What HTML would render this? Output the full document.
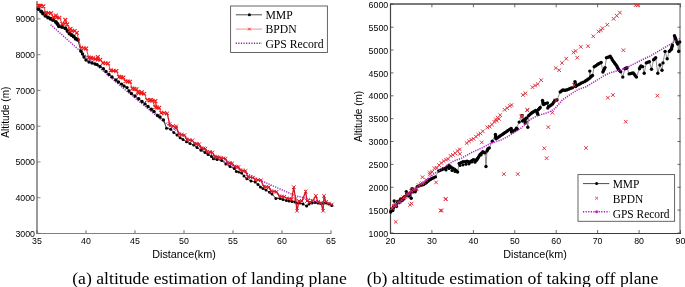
<!DOCTYPE html>
<html><head><meta charset="utf-8"><style>
html,body{margin:0;padding:0;background:#fff;}
body{width:685px;height:287px;overflow:hidden;}
svg{display:block;will-change:transform;filter:blur(0.3px);}
.tk{font-family:"Liberation Sans",sans-serif;font-size:8.8px;fill:#000;}
.lab{font-family:"Liberation Sans",sans-serif;font-size:10.8px;fill:#000;}
.lg{font-family:"Liberation Serif",serif;font-size:11.7px;fill:#000;}
.laby{font-family:"Liberation Sans",sans-serif;font-size:10px;fill:#000;}
.lg2{font-family:"Liberation Serif",serif;font-size:11.45px;fill:#000;}
.cap{font-family:"Liberation Serif",serif;font-size:17.7px;fill:#000;}
</style></head><body>
<svg width="685" height="287" viewBox="0 0 685 287">
<line x1="37" y1="1" x2="37" y2="233.5" stroke="#9a9a9a" stroke-width="2"/>
<line x1="36" y1="233.5" x2="331.5" y2="233.5" stroke="#808080" stroke-width="1.2"/>
<line x1="37" y1="233.4" x2="40.5" y2="233.4" stroke="#666" stroke-width="0.8"/>
<text x="35" y="236.8" class="tk" text-anchor="end">3000</text>
<line x1="37" y1="197.7" x2="40.5" y2="197.7" stroke="#666" stroke-width="0.8"/>
<text x="35" y="201.1" class="tk" text-anchor="end">4000</text>
<line x1="37" y1="161.9" x2="40.5" y2="161.9" stroke="#666" stroke-width="0.8"/>
<text x="35" y="165.3" class="tk" text-anchor="end">5000</text>
<line x1="37" y1="126.2" x2="40.5" y2="126.2" stroke="#666" stroke-width="0.8"/>
<text x="35" y="129.6" class="tk" text-anchor="end">6000</text>
<line x1="37" y1="90.4" x2="40.5" y2="90.4" stroke="#666" stroke-width="0.8"/>
<text x="35" y="93.8" class="tk" text-anchor="end">7000</text>
<line x1="37" y1="54.7" x2="40.5" y2="54.7" stroke="#666" stroke-width="0.8"/>
<text x="35" y="58.1" class="tk" text-anchor="end">8000</text>
<line x1="37" y1="18.9" x2="40.5" y2="18.9" stroke="#666" stroke-width="0.8"/>
<text x="35" y="22.3" class="tk" text-anchor="end">9000</text>
<line x1="37" y1="233" x2="37" y2="230.3" stroke="#555" stroke-width="0.9"/>
<text x="37" y="243.6" class="tk" text-anchor="middle">35</text>
<line x1="86" y1="233" x2="86" y2="230.3" stroke="#555" stroke-width="0.9"/>
<text x="86" y="243.6" class="tk" text-anchor="middle">40</text>
<line x1="135" y1="233" x2="135" y2="230.3" stroke="#555" stroke-width="0.9"/>
<text x="135" y="243.6" class="tk" text-anchor="middle">45</text>
<line x1="184" y1="233" x2="184" y2="230.3" stroke="#555" stroke-width="0.9"/>
<text x="184" y="243.6" class="tk" text-anchor="middle">50</text>
<line x1="233" y1="233" x2="233" y2="230.3" stroke="#555" stroke-width="0.9"/>
<text x="233" y="243.6" class="tk" text-anchor="middle">55</text>
<line x1="282" y1="233" x2="282" y2="230.3" stroke="#555" stroke-width="0.9"/>
<text x="282" y="243.6" class="tk" text-anchor="middle">60</text>
<line x1="331" y1="233" x2="331" y2="230.3" stroke="#555" stroke-width="0.9"/>
<text x="331" y="243.6" class="tk" text-anchor="middle">65</text>
<text x="184" y="257.6" class="lab" text-anchor="middle">Distance(km)</text>
<text transform="translate(9.1,112.2) rotate(-90)" class="laby" text-anchor="middle">Altitude (m)</text>
<polyline points="50.6,24.7 81,51.8 120,85.5 161.5,120 210,154 235,167 258,179.3 294.7,195.5 331,204.5" fill="none" stroke="#a020c0" stroke-width="1.4" stroke-dasharray="1.2 1.2"/>
<polyline points="38.5,9 41.2,11.5 43,13.5 45.4,15.7 48,17.5 50.6,18.8 53,20 55.9,22 57.5,24 59,26.2 62,27 65.3,28.2 67.5,31 69.5,33.5 71.5,35 73.7,36.6 75.7,38.7 77.8,39.7 81,51.3 82.5,54 84,57 86,60 89,62 92,63 95,64 97.1,64.6 100,66.5 103.4,68.8 106,71.5 108.9,74.4 112,77 115.9,80 118.5,82 121.5,84.1 124,86 127,87.6 129,91 131.4,93.5 135,96 138.7,98.7 142,101.5 145,103.9 148,106.5 151.3,109.2 154,111.5 157.5,115.4 160,117 163.4,119.9 166.5,128.2 170.7,129.3 173.8,132.4 177,135 180.1,137.7 183,139.5 186.4,141.8 190,143.5 193.7,145 197,147.5 201,150.2 205,152.5 208,154.5 211.5,156.5 213.4,158.8 217,159.5 221.7,160.5 225.9,164 230,166.5 234.3,168.5 236.4,171.4 239,172 241.6,173 244,176 246.8,178.7 251,181 255.2,182 258,184.5 260.4,187 263,188.5 266,190 269.6,192.2 272,194 275.9,198.5 280.1,198.5 283,199.5 286.4,200.6 289,201 292,201.5 295,202 297,202.9 300,203 303,204 306.6,206 309,204 312,203 315,202.5 318,203 321,203.5 324,203 326.6,202.9 329,204 331.8,205.5" fill="none" stroke="#000" stroke-width="0.8"/>
<circle cx="38.5" cy="9" r="2.0" fill="#000"/><circle cx="41.2" cy="11.5" r="2.0" fill="#000"/><circle cx="43" cy="13.5" r="2.0" fill="#000"/><circle cx="45.4" cy="15.7" r="2.0" fill="#000"/><circle cx="48" cy="17.5" r="2.0" fill="#000"/><circle cx="50.6" cy="18.8" r="2.0" fill="#000"/><circle cx="53" cy="20" r="2.0" fill="#000"/><circle cx="55.9" cy="22" r="2.0" fill="#000"/><circle cx="57.5" cy="24" r="2.0" fill="#000"/><circle cx="59" cy="26.2" r="2.0" fill="#000"/><circle cx="62" cy="27" r="2.0" fill="#000"/><circle cx="65.3" cy="28.2" r="2.0" fill="#000"/><circle cx="67.5" cy="31" r="2.0" fill="#000"/><circle cx="69.5" cy="33.5" r="2.0" fill="#000"/><circle cx="71.5" cy="35" r="2.0" fill="#000"/><circle cx="73.7" cy="36.6" r="2.0" fill="#000"/><circle cx="75.7" cy="38.7" r="2.0" fill="#000"/><circle cx="77.8" cy="39.7" r="2.0" fill="#000"/>
<circle cx="81" cy="51.3" r="1.7" fill="#000"/><circle cx="82.5" cy="54" r="1.7" fill="#000"/><circle cx="84" cy="57" r="1.7" fill="#000"/><circle cx="86" cy="60" r="1.7" fill="#000"/><circle cx="89" cy="62" r="1.7" fill="#000"/><circle cx="92" cy="63" r="1.7" fill="#000"/><circle cx="95" cy="64" r="1.7" fill="#000"/><circle cx="97.1" cy="64.6" r="1.7" fill="#000"/><circle cx="100" cy="66.5" r="1.7" fill="#000"/><circle cx="103.4" cy="68.8" r="1.7" fill="#000"/><circle cx="106" cy="71.5" r="1.7" fill="#000"/><circle cx="108.9" cy="74.4" r="1.7" fill="#000"/><circle cx="112" cy="77" r="1.7" fill="#000"/><circle cx="115.9" cy="80" r="1.7" fill="#000"/><circle cx="118.5" cy="82" r="1.7" fill="#000"/><circle cx="121.5" cy="84.1" r="1.7" fill="#000"/><circle cx="124" cy="86" r="1.7" fill="#000"/><circle cx="127" cy="87.6" r="1.7" fill="#000"/><circle cx="129" cy="91" r="1.7" fill="#000"/><circle cx="131.4" cy="93.5" r="1.7" fill="#000"/><circle cx="135" cy="96" r="1.7" fill="#000"/><circle cx="138.7" cy="98.7" r="1.7" fill="#000"/><circle cx="142" cy="101.5" r="1.7" fill="#000"/><circle cx="145" cy="103.9" r="1.7" fill="#000"/><circle cx="148" cy="106.5" r="1.7" fill="#000"/><circle cx="151.3" cy="109.2" r="1.7" fill="#000"/><circle cx="154" cy="111.5" r="1.7" fill="#000"/><circle cx="157.5" cy="115.4" r="1.7" fill="#000"/><circle cx="160" cy="117" r="1.7" fill="#000"/><circle cx="163.4" cy="119.9" r="1.7" fill="#000"/>
<circle cx="166.5" cy="128.2" r="1.5" fill="#000"/><circle cx="170.7" cy="129.3" r="1.5" fill="#000"/><circle cx="173.8" cy="132.4" r="1.5" fill="#000"/><circle cx="177" cy="135" r="1.5" fill="#000"/><circle cx="180.1" cy="137.7" r="1.5" fill="#000"/><circle cx="183" cy="139.5" r="1.5" fill="#000"/><circle cx="186.4" cy="141.8" r="1.5" fill="#000"/><circle cx="190" cy="143.5" r="1.5" fill="#000"/><circle cx="193.7" cy="145" r="1.5" fill="#000"/><circle cx="197" cy="147.5" r="1.5" fill="#000"/><circle cx="201" cy="150.2" r="1.5" fill="#000"/><circle cx="205" cy="152.5" r="1.5" fill="#000"/><circle cx="208" cy="154.5" r="1.5" fill="#000"/><circle cx="211.5" cy="156.5" r="1.5" fill="#000"/><circle cx="213.4" cy="158.8" r="1.5" fill="#000"/><circle cx="217" cy="159.5" r="1.5" fill="#000"/><circle cx="221.7" cy="160.5" r="1.5" fill="#000"/><circle cx="225.9" cy="164" r="1.5" fill="#000"/><circle cx="230" cy="166.5" r="1.5" fill="#000"/><circle cx="234.3" cy="168.5" r="1.5" fill="#000"/><circle cx="236.4" cy="171.4" r="1.5" fill="#000"/><circle cx="239" cy="172" r="1.5" fill="#000"/><circle cx="241.6" cy="173" r="1.5" fill="#000"/><circle cx="244" cy="176" r="1.5" fill="#000"/><circle cx="246.8" cy="178.7" r="1.5" fill="#000"/><circle cx="251" cy="181" r="1.5" fill="#000"/><circle cx="255.2" cy="182" r="1.5" fill="#000"/><circle cx="258" cy="184.5" r="1.5" fill="#000"/><circle cx="260.4" cy="187" r="1.5" fill="#000"/><circle cx="263" cy="188.5" r="1.5" fill="#000"/><circle cx="266" cy="190" r="1.5" fill="#000"/><circle cx="269.6" cy="192.2" r="1.5" fill="#000"/><circle cx="272" cy="194" r="1.5" fill="#000"/><circle cx="275.9" cy="198.5" r="1.5" fill="#000"/><circle cx="280.1" cy="198.5" r="1.5" fill="#000"/><circle cx="283" cy="199.5" r="1.5" fill="#000"/><circle cx="286.4" cy="200.6" r="1.5" fill="#000"/><circle cx="289" cy="201" r="1.5" fill="#000"/><circle cx="292" cy="201.5" r="1.5" fill="#000"/><circle cx="295" cy="202" r="1.5" fill="#000"/><circle cx="297" cy="202.9" r="1.5" fill="#000"/><circle cx="300" cy="203" r="1.5" fill="#000"/><circle cx="303" cy="204" r="1.5" fill="#000"/><circle cx="306.6" cy="206" r="1.5" fill="#000"/><circle cx="309" cy="204" r="1.5" fill="#000"/><circle cx="312" cy="203" r="1.5" fill="#000"/><circle cx="315" cy="202.5" r="1.5" fill="#000"/><circle cx="318" cy="203" r="1.5" fill="#000"/><circle cx="321" cy="203.5" r="1.5" fill="#000"/><circle cx="324" cy="203" r="1.5" fill="#000"/><circle cx="326.6" cy="202.9" r="1.5" fill="#000"/><circle cx="329" cy="204" r="1.5" fill="#000"/><circle cx="331.8" cy="205.5" r="1.5" fill="#000"/>
<polyline points="38.5,5.7 39.8,5.7 41,6 43.4,6.3 45.9,12.7 48.4,13 51,13.3 53.5,17.1 55.9,15.5 56.5,17.4 59.4,17.7 62.3,23.8 64.8,24.1 65.3,19.9 67.2,24.4 69.7,30.4 70.5,28.8 72.2,30.7 74.7,31 76.8,32.7 81,48 83.6,48.3 86.2,48.6 88.8,57.6 90.9,57.9 93.1,58.2 95.3,59.1 97.8,57.1 97.8,59.4 100.3,59.7 102.9,62.9 105.5,63.2 108.1,63.5 110.7,70.4 113.5,70.7 116.3,71 119.1,76.9 121.2,77.2 123.3,77.5 125.4,81.2 127.7,81.5 130,81.8 132.3,88.6 134.4,88.9 136.5,89.2 138,91.7 138.6,93.1 141.4,93.4 141.8,92.3 144.2,93.7 147,100.1 149.7,100.4 151,100 152.4,100.7 155.1,107.2 155.4,101.1 157.1,107.5 159.2,107.8 161.2,112.8 164.2,113.1" fill="none" stroke="#f02020" stroke-width="0.9"/>
<polyline points="164.2,113.1 167.2,113.4 169.6,124 170.2,125.7 173.1,126 175.9,128.1 176.1,126.3 179.1,134.5 181.7,134.8 184.4,135.1 187,139.8 189.6,140.1 192.3,140.4 194.9,143.6 197,143.9 199.2,144.2 201.3,148.1 203.4,148.4 205.4,148.7 207.4,151.8 209.9,152.1 212.4,152.4 215,156.8 217,157.1 219.1,157.4 221.2,158.1 223.3,158.4 225.5,158.7 227.7,162.8 230,163.1 232.2,163.4 234.4,166.4 236.5,166.7 238.5,167 240.5,170.3 243,170.6 245.5,170.9 247.9,177 250.4,177.3 252.8,177.6 255.3,179.7 258.1,180 260.9,180.3 263.8,186.6 266.3,186.9 268.8,187.2 271.3,191.2 274,191.5 276.6,191.8 279.3,196.2 281.8,196.5 284.3,196.8 286.8,198.4 289.4,198.7 291.6,199.5 293.8,187.2 295.5,199 297,210.7 299,201 302,201 305.7,191.6 307,201 310,202 312.5,201 315.8,195.9 318,202 321,203 323.1,210.7 324,195.9 326,202 329,203.5 331.8,204.5" fill="none" stroke="#d01828" stroke-width="1.3"/>
<path d="M36.6 3.8L40.4 7.6M36.6 7.6L40.4 3.8M37.9 3.8L41.7 7.6M37.9 7.6L41.7 3.8M39.1 4.1L42.9 7.9M39.1 7.9L42.9 4.1M41.5 4.4L45.3 8.2M41.5 8.2L45.3 4.4M44 10.8L47.8 14.6M44 14.6L47.8 10.8M46.5 11.1L50.3 14.9M46.5 14.9L50.3 11.1M49.1 11.4L52.9 15.2M49.1 15.2L52.9 11.4M51.6 15.2L55.4 19M51.6 19L55.4 15.2M54 13.6L57.8 17.4M54 17.4L57.8 13.6M54.6 15.5L58.4 19.3M54.6 19.3L58.4 15.5M57.5 15.8L61.3 19.6M57.5 19.6L61.3 15.8M60.4 21.9L64.2 25.7M60.4 25.7L64.2 21.9M62.9 22.2L66.7 26M62.9 26L66.7 22.2M63.4 18L67.2 21.8M63.4 21.8L67.2 18M65.3 22.5L69.1 26.3M65.3 26.3L69.1 22.5M67.8 28.5L71.6 32.3M67.8 32.3L71.6 28.5M68.6 26.9L72.4 30.6M68.6 30.6L72.4 26.9M70.3 28.8L74.1 32.6M70.3 32.6L74.1 28.8M72.8 29.1L76.6 32.9M72.8 32.9L76.6 29.1M74.9 30.8L78.7 34.6M74.9 34.6L78.7 30.8M79.1 46.1L82.9 49.9M79.1 49.9L82.9 46.1M81.7 46.4L85.5 50.2M81.7 50.2L85.5 46.4M84.3 46.7L88.1 50.5M84.3 50.5L88.1 46.7M86.9 55.7L90.7 59.5M86.9 59.5L90.7 55.7M89 56L92.8 59.8M89 59.8L92.8 56M91.2 56.3L95 60.1M91.2 60.1L95 56.3M93.4 57.2L97.2 61M93.4 61L97.2 57.2M95.9 55.2L99.7 59M95.9 59L99.7 55.2M95.9 57.5L99.7 61.3M95.9 61.3L99.7 57.5M98.4 57.8L102.2 61.6M98.4 61.6L102.2 57.8M101 61L104.8 64.8M101 64.8L104.8 61M103.6 61.3L107.4 65.1M103.6 65.1L107.4 61.3M106.2 61.6L110 65.4M106.2 65.4L110 61.6M108.8 68.5L112.6 72.3M108.8 72.3L112.6 68.5M111.6 68.8L115.4 72.6M111.6 72.6L115.4 68.8M114.4 69.1L118.2 72.9M114.4 72.9L118.2 69.1M117.2 75L121 78.8M117.2 78.8L121 75M119.3 75.3L123.1 79.1M119.3 79.1L123.1 75.3M121.4 75.6L125.2 79.4M121.4 79.4L125.2 75.6M123.5 79.3L127.3 83.1M123.5 83.1L127.3 79.3M125.8 79.6L129.6 83.4M125.8 83.4L129.6 79.6M128.1 79.9L131.9 83.7M128.1 83.7L131.9 79.9M130.4 86.7L134.2 90.5M130.4 90.5L134.2 86.7M132.5 87L136.3 90.8M132.5 90.8L136.3 87M134.6 87.3L138.4 91.1M134.6 91.1L138.4 87.3M136.1 89.8L139.9 93.6M136.1 93.6L139.9 89.8M136.7 91.2L140.5 95M136.7 95L140.5 91.2M139.5 91.5L143.3 95.3M139.5 95.3L143.3 91.5M139.9 90.4L143.7 94.2M139.9 94.2L143.7 90.4M142.3 91.8L146.1 95.6M142.3 95.6L146.1 91.8M145.1 98.2L148.9 102M145.1 102L148.9 98.2M147.8 98.5L151.6 102.3M147.8 102.3L151.6 98.5M149.1 98.1L152.9 101.9M149.1 101.9L152.9 98.1M150.5 98.8L154.3 102.6M150.5 102.6L154.3 98.8M153.2 105.3L157 109.1M153.2 109.1L157 105.3M153.5 99.2L157.3 103M153.5 103L157.3 99.2M155.2 105.6L159 109.4M155.2 109.4L159 105.6M157.3 105.9L161.1 109.7M157.3 109.7L161.1 105.9M159.3 110.9L163.1 114.7M159.3 114.7L163.1 110.9M162.3 111.2L166.1 115M162.3 115L166.1 111.2" stroke="#f01818" stroke-width="1.1" fill="none"/>
<path d="M165.4 111.6L169 115.2M165.4 115.2L169 111.6M167.8 122.2L171.4 125.8M167.8 125.8L171.4 122.2M168.4 123.9L172 127.5M168.4 127.5L172 123.9M171.3 124.2L174.9 127.8M171.3 127.8L174.9 124.2M174.1 126.3L177.7 129.9M174.1 129.9L177.7 126.3M174.3 124.5L177.9 128.1M174.3 128.1L177.9 124.5M177.3 132.7L180.9 136.3M177.3 136.3L180.9 132.7M179.9 133L183.5 136.6M179.9 136.6L183.5 133M182.6 133.3L186.2 136.9M182.6 136.9L186.2 133.3M185.2 138L188.8 141.6M185.2 141.6L188.8 138M187.8 138.3L191.4 141.9M187.8 141.9L191.4 138.3M190.5 138.6L194.1 142.2M190.5 142.2L194.1 138.6M193.1 141.8L196.7 145.4M193.1 145.4L196.7 141.8M195.2 142.1L198.8 145.7M195.2 145.7L198.8 142.1M197.4 142.4L201 146M197.4 146L201 142.4M199.5 146.3L203.1 149.9M199.5 149.9L203.1 146.3M201.6 146.6L205.2 150.2M201.6 150.2L205.2 146.6M203.6 146.9L207.2 150.5M203.6 150.5L207.2 146.9M205.6 150L209.2 153.6M205.6 153.6L209.2 150M208.1 150.3L211.7 153.9M208.1 153.9L211.7 150.3M210.6 150.6L214.2 154.2M210.6 154.2L214.2 150.6M213.2 155L216.8 158.6M213.2 158.6L216.8 155M215.2 155.3L218.8 158.9M215.2 158.9L218.8 155.3M217.3 155.6L220.9 159.2M217.3 159.2L220.9 155.6M219.4 156.3L223 159.9M219.4 159.9L223 156.3M221.5 156.6L225.1 160.2M221.5 160.2L225.1 156.6M223.7 156.9L227.3 160.5M223.7 160.5L227.3 156.9M225.9 161L229.5 164.6M225.9 164.6L229.5 161M228.2 161.3L231.8 164.9M228.2 164.9L231.8 161.3M230.4 161.6L234 165.2M230.4 165.2L234 161.6M232.6 164.6L236.2 168.2M232.6 168.2L236.2 164.6M234.7 164.9L238.3 168.5M234.7 168.5L238.3 164.9M236.7 165.2L240.3 168.8M236.7 168.8L240.3 165.2M238.7 168.5L242.3 172.1M238.7 172.1L242.3 168.5M241.2 168.8L244.8 172.4M241.2 172.4L244.8 168.8M243.7 169.1L247.3 172.7M243.7 172.7L247.3 169.1M246.1 175.2L249.7 178.8M246.1 178.8L249.7 175.2M248.6 175.5L252.2 179.1M248.6 179.1L252.2 175.5M251 175.8L254.6 179.4M251 179.4L254.6 175.8M253.5 177.9L257.1 181.5M253.5 181.5L257.1 177.9M256.3 178.2L259.9 181.8M256.3 181.8L259.9 178.2M259.1 178.5L262.7 182.1M259.1 182.1L262.7 178.5M262 184.8L265.6 188.4M262 188.4L265.6 184.8M264.5 185.1L268.1 188.7M264.5 188.7L268.1 185.1M267 185.4L270.6 189M267 189L270.6 185.4M269.5 189.4L273.1 193M269.5 193L273.1 189.4M272.2 189.7L275.8 193.3M272.2 193.3L275.8 189.7M274.8 190L278.4 193.6M274.8 193.6L278.4 190M277.5 194.4L281.1 198M277.5 198L281.1 194.4M280 194.7L283.6 198.3M280 198.3L283.6 194.7M282.5 195L286.1 198.6M282.5 198.6L286.1 195M285 196.6L288.6 200.2M285 200.2L288.6 196.6M287.6 196.9L291.2 200.5M287.6 200.5L291.2 196.9M289.8 197.7L293.4 201.3M289.8 201.3L293.4 197.7M292 185.4L295.6 189M292 189L295.6 185.4M293.7 197.2L297.3 200.8M293.7 200.8L297.3 197.2M295.2 208.9L298.8 212.5M295.2 212.5L298.8 208.9M297.2 199.2L300.8 202.8M297.2 202.8L300.8 199.2M300.2 199.2L303.8 202.8M300.2 202.8L303.8 199.2M303.9 189.8L307.5 193.4M303.9 193.4L307.5 189.8M305.2 199.2L308.8 202.8M305.2 202.8L308.8 199.2M308.2 200.2L311.8 203.8M308.2 203.8L311.8 200.2M310.7 199.2L314.3 202.8M310.7 202.8L314.3 199.2M314 194.1L317.6 197.7M314 197.7L317.6 194.1M316.2 200.2L319.8 203.8M316.2 203.8L319.8 200.2M319.2 201.2L322.8 204.8M319.2 204.8L322.8 201.2M321.3 208.9L324.9 212.5M321.3 212.5L324.9 208.9M322.2 194.1L325.8 197.7M322.2 197.7L325.8 194.1M324.2 200.2L327.8 203.8M324.2 203.8L327.8 200.2M327.2 201.7L330.8 205.3M327.2 205.3L330.8 201.7M330 202.7L333.6 206.3M330 206.3L333.6 202.7" stroke="#d81828" stroke-width="1.0" fill="none"/>
<line x1="390" y1="4" x2="681" y2="4" stroke="#7a7a7a" stroke-width="1.8"/>
<line x1="680" y1="3.5" x2="680" y2="234" stroke="#ababab" stroke-width="2"/>
<line x1="390" y1="233.5" x2="681" y2="233.5" stroke="#3a3a3a" stroke-width="1.2"/>
<line x1="390.5" y1="3.5" x2="390.5" y2="234" stroke="#444" stroke-width="1.2"/>
<line x1="390.5" y1="233" x2="393.5" y2="233" stroke="#444" stroke-width="0.8"/>
<line x1="677.5" y1="233" x2="680.5" y2="233" stroke="#444" stroke-width="0.8"/>
<text x="388.2" y="236.6" class="tk" text-anchor="end">1000</text>
<line x1="390.5" y1="210.1" x2="393.5" y2="210.1" stroke="#444" stroke-width="0.8"/>
<line x1="677.5" y1="210.1" x2="680.5" y2="210.1" stroke="#444" stroke-width="0.8"/>
<text x="388.2" y="213.7" class="tk" text-anchor="end">1500</text>
<line x1="390.5" y1="187.3" x2="393.5" y2="187.3" stroke="#444" stroke-width="0.8"/>
<line x1="677.5" y1="187.3" x2="680.5" y2="187.3" stroke="#444" stroke-width="0.8"/>
<text x="388.2" y="190.9" class="tk" text-anchor="end">2000</text>
<line x1="390.5" y1="164.4" x2="393.5" y2="164.4" stroke="#444" stroke-width="0.8"/>
<line x1="677.5" y1="164.4" x2="680.5" y2="164.4" stroke="#444" stroke-width="0.8"/>
<text x="388.2" y="168" class="tk" text-anchor="end">2500</text>
<line x1="390.5" y1="141.5" x2="393.5" y2="141.5" stroke="#444" stroke-width="0.8"/>
<line x1="677.5" y1="141.5" x2="680.5" y2="141.5" stroke="#444" stroke-width="0.8"/>
<text x="388.2" y="145.1" class="tk" text-anchor="end">3000</text>
<line x1="390.5" y1="118.7" x2="393.5" y2="118.7" stroke="#444" stroke-width="0.8"/>
<line x1="677.5" y1="118.7" x2="680.5" y2="118.7" stroke="#444" stroke-width="0.8"/>
<text x="388.2" y="122.2" class="tk" text-anchor="end">3500</text>
<line x1="390.5" y1="95.8" x2="393.5" y2="95.8" stroke="#444" stroke-width="0.8"/>
<line x1="677.5" y1="95.8" x2="680.5" y2="95.8" stroke="#444" stroke-width="0.8"/>
<text x="388.2" y="99.4" class="tk" text-anchor="end">4000</text>
<line x1="390.5" y1="72.9" x2="393.5" y2="72.9" stroke="#444" stroke-width="0.8"/>
<line x1="677.5" y1="72.9" x2="680.5" y2="72.9" stroke="#444" stroke-width="0.8"/>
<text x="388.2" y="76.5" class="tk" text-anchor="end">4500</text>
<line x1="390.5" y1="50" x2="393.5" y2="50" stroke="#444" stroke-width="0.8"/>
<line x1="677.5" y1="50" x2="680.5" y2="50" stroke="#444" stroke-width="0.8"/>
<text x="388.2" y="53.6" class="tk" text-anchor="end">5000</text>
<line x1="390.5" y1="27.2" x2="393.5" y2="27.2" stroke="#444" stroke-width="0.8"/>
<line x1="677.5" y1="27.2" x2="680.5" y2="27.2" stroke="#444" stroke-width="0.8"/>
<text x="388.2" y="30.8" class="tk" text-anchor="end">5500</text>
<line x1="390.5" y1="4.3" x2="393.5" y2="4.3" stroke="#444" stroke-width="0.8"/>
<line x1="677.5" y1="4.3" x2="680.5" y2="4.3" stroke="#444" stroke-width="0.8"/>
<text x="388.2" y="7.9" class="tk" text-anchor="end">6000</text>
<line x1="390.5" y1="233" x2="390.5" y2="230" stroke="#444" stroke-width="0.8"/>
<line x1="390.5" y1="4.3" x2="390.5" y2="7.3" stroke="#444" stroke-width="0.8"/>
<text x="390.5" y="244.4" class="tk" text-anchor="middle">20</text>
<line x1="431.9" y1="233" x2="431.9" y2="230" stroke="#444" stroke-width="0.8"/>
<line x1="431.9" y1="4.3" x2="431.9" y2="7.3" stroke="#444" stroke-width="0.8"/>
<text x="431.9" y="244.4" class="tk" text-anchor="middle">30</text>
<line x1="473.4" y1="233" x2="473.4" y2="230" stroke="#444" stroke-width="0.8"/>
<line x1="473.4" y1="4.3" x2="473.4" y2="7.3" stroke="#444" stroke-width="0.8"/>
<text x="473.4" y="244.4" class="tk" text-anchor="middle">40</text>
<line x1="514.8" y1="233" x2="514.8" y2="230" stroke="#444" stroke-width="0.8"/>
<line x1="514.8" y1="4.3" x2="514.8" y2="7.3" stroke="#444" stroke-width="0.8"/>
<text x="514.8" y="244.4" class="tk" text-anchor="middle">50</text>
<line x1="556.2" y1="233" x2="556.2" y2="230" stroke="#444" stroke-width="0.8"/>
<line x1="556.2" y1="4.3" x2="556.2" y2="7.3" stroke="#444" stroke-width="0.8"/>
<text x="556.2" y="244.4" class="tk" text-anchor="middle">60</text>
<line x1="597.6" y1="233" x2="597.6" y2="230" stroke="#444" stroke-width="0.8"/>
<line x1="597.6" y1="4.3" x2="597.6" y2="7.3" stroke="#444" stroke-width="0.8"/>
<text x="597.6" y="244.4" class="tk" text-anchor="middle">70</text>
<line x1="639.1" y1="233" x2="639.1" y2="230" stroke="#444" stroke-width="0.8"/>
<line x1="639.1" y1="4.3" x2="639.1" y2="7.3" stroke="#444" stroke-width="0.8"/>
<text x="639.1" y="244.4" class="tk" text-anchor="middle">80</text>
<line x1="680.5" y1="233" x2="680.5" y2="230" stroke="#444" stroke-width="0.8"/>
<line x1="680.5" y1="4.3" x2="680.5" y2="7.3" stroke="#444" stroke-width="0.8"/>
<text x="680.5" y="244.4" class="tk" text-anchor="middle">90</text>
<text x="535" y="257.7" class="lab" text-anchor="middle">Distance(km)</text>
<text transform="translate(362.3,116.4) rotate(-90)" class="laby" text-anchor="middle">Altitude (m)</text>
<polyline points="390.7,212 391.5,209.5 392.8,210.5 393.7,206.5 394.2,201 395,206 396.5,206.5 397.5,201.5 399,202.5 400.6,199 402,200.5 403.5,197.5 405,196.5 406.3,191.6 407.5,195.5 408.9,196 410,193 411.2,198.3 412,191 412.1,188.7 415.2,191.8 417.3,186.6 420,185.5 423.6,184.5 426.5,182.6 429.4,180 432,178.5 435.4,176.9 438.6,171 442.2,169.6 445.9,168.1 449,165.4 451.3,167.4 454,169 456,170.6 457.6,172.1 459.2,163.4 463,161.8 467,161.3 470.3,162 473.3,159.6 476.6,160.2 479.7,155 482.9,151.8 485,152.9 486,166.5 487,151 488.1,148.7 489.3,147.9 492.3,141.2 495.4,134.5 496,138.8 500,136 504,133.3 508,130.5 511.2,128.4 511.5,132.1 514.5,130.5 517.3,129 516.4,128.3 519.2,122.1 522,115.8 522.5,121 524.8,119.3 525.2,123 526.5,118 527.8,127.2 528.6,115.7 531,113.5 533.1,112 535.7,110.4 537,112 537.8,114.6 538.5,109.5 540.2,107.5 542.5,100.5 543.5,104.5 545.5,103.5 547.4,103 547.8,108.1 548.5,106.5 549.8,106 552.6,103.9 554.7,100.5 557,100 560.2,92 562.8,90 565.5,90.3 569,89 572.4,87.7 575,81.6 575.5,86.5 577.6,85.1 581,83.3 584.6,81.6 587,80 589.8,78.1 589.8,71.1 590.5,77 592.5,75.5 594.2,66.8 597.5,64.5 601.2,62.4 602.9,72 605,67.6 606.5,57.8 609.6,56.7 610.2,56.2 613.4,61.4 616.5,65.6 618.6,69.7 620.7,71.8 622.8,77.1 624.9,68.7 627,67.7 629.1,73.9 633.2,72.9 636.4,77.1 639.5,68.7 641,66 642.7,66.6 644.2,73.3 646.3,62.9 649.4,61.8 651.5,69.2 653.6,59.7 655.7,57.7 657.8,73.3 659.9,65 662,70.2 663,62.9 665.1,51.4 667.2,58.7 669.3,51.4 671.4,49.3 672.4,45.1 674.5,35.7 676,39.9 677.7,44.1 678.7,51.4 679.7,42" fill="none" stroke="#444" stroke-width="0.6"/>
<circle cx="390.7" cy="212" r="1.7" fill="#000"/><circle cx="391.1" cy="210.8" r="1.7" fill="#000"/><circle cx="391.5" cy="209.5" r="1.7" fill="#000"/><circle cx="392.8" cy="210.5" r="1.7" fill="#000"/><circle cx="393.2" cy="208.5" r="1.7" fill="#000"/><circle cx="393.7" cy="206.5" r="1.7" fill="#000"/><circle cx="394.2" cy="201" r="1.7" fill="#000"/><circle cx="395" cy="206" r="1.7" fill="#000"/><circle cx="396.5" cy="206.5" r="1.7" fill="#000"/><circle cx="397.5" cy="201.5" r="1.7" fill="#000"/><circle cx="399" cy="202.5" r="1.7" fill="#000"/><circle cx="399.8" cy="200.8" r="1.7" fill="#000"/><circle cx="400.6" cy="199" r="1.7" fill="#000"/><circle cx="402" cy="200.5" r="1.7" fill="#000"/><circle cx="402.8" cy="199" r="1.7" fill="#000"/><circle cx="403.5" cy="197.5" r="1.7" fill="#000"/><circle cx="405" cy="196.5" r="1.7" fill="#000"/><circle cx="406.3" cy="191.6" r="1.7" fill="#000"/><circle cx="406.9" cy="193.6" r="1.7" fill="#000"/><circle cx="407.5" cy="195.5" r="1.7" fill="#000"/><circle cx="408.9" cy="196" r="1.7" fill="#000"/><circle cx="409.4" cy="194.5" r="1.7" fill="#000"/><circle cx="410" cy="193" r="1.7" fill="#000"/><circle cx="411.2" cy="198.3" r="1.7" fill="#000"/><circle cx="412" cy="191" r="1.7" fill="#000"/><circle cx="412.1" cy="189.8" r="1.7" fill="#000"/><circle cx="412.1" cy="188.7" r="1.7" fill="#000"/><circle cx="413.1" cy="189.7" r="1.7" fill="#000"/><circle cx="414.2" cy="190.8" r="1.7" fill="#000"/><circle cx="415.2" cy="191.8" r="1.7" fill="#000"/><circle cx="417.3" cy="186.6" r="1.7" fill="#000"/><circle cx="418.6" cy="186.1" r="1.7" fill="#000"/><circle cx="420" cy="185.5" r="1.7" fill="#000"/><circle cx="421.8" cy="185" r="1.7" fill="#000"/><circle cx="423.6" cy="184.5" r="1.7" fill="#000"/><circle cx="425.1" cy="183.6" r="1.7" fill="#000"/><circle cx="426.5" cy="182.6" r="1.7" fill="#000"/><circle cx="427.9" cy="181.3" r="1.7" fill="#000"/><circle cx="429.4" cy="180" r="1.7" fill="#000"/><circle cx="430.7" cy="179.2" r="1.7" fill="#000"/><circle cx="432" cy="178.5" r="1.7" fill="#000"/><circle cx="433.7" cy="177.7" r="1.7" fill="#000"/><circle cx="435.4" cy="176.9" r="1.7" fill="#000"/><circle cx="438.6" cy="171" r="1.7" fill="#000"/><circle cx="440.4" cy="170.3" r="1.7" fill="#000"/><circle cx="442.2" cy="169.6" r="1.7" fill="#000"/><circle cx="444" cy="168.8" r="1.7" fill="#000"/><circle cx="445.9" cy="168.1" r="1.7" fill="#000"/><circle cx="447.4" cy="166.8" r="1.7" fill="#000"/><circle cx="449" cy="165.4" r="1.7" fill="#000"/><circle cx="450.1" cy="166.4" r="1.7" fill="#000"/><circle cx="451.3" cy="167.4" r="1.7" fill="#000"/><circle cx="452.6" cy="168.2" r="1.7" fill="#000"/><circle cx="454" cy="169" r="1.7" fill="#000"/><circle cx="455" cy="169.8" r="1.7" fill="#000"/><circle cx="456" cy="170.6" r="1.7" fill="#000"/><circle cx="456.8" cy="171.3" r="1.7" fill="#000"/><circle cx="457.6" cy="172.1" r="1.7" fill="#000"/><circle cx="459.2" cy="163.4" r="1.7" fill="#000"/><circle cx="461.1" cy="162.6" r="1.7" fill="#000"/><circle cx="463" cy="161.8" r="1.7" fill="#000"/><circle cx="465" cy="161.6" r="1.7" fill="#000"/><circle cx="467" cy="161.3" r="1.7" fill="#000"/><circle cx="468.6" cy="161.7" r="1.7" fill="#000"/><circle cx="470.3" cy="162" r="1.7" fill="#000"/><circle cx="471.8" cy="160.8" r="1.7" fill="#000"/><circle cx="473.3" cy="159.6" r="1.7" fill="#000"/><circle cx="475" cy="159.9" r="1.7" fill="#000"/><circle cx="476.6" cy="160.2" r="1.7" fill="#000"/><circle cx="477.6" cy="158.5" r="1.7" fill="#000"/><circle cx="478.7" cy="156.7" r="1.7" fill="#000"/><circle cx="479.7" cy="155" r="1.7" fill="#000"/><circle cx="480.8" cy="153.9" r="1.7" fill="#000"/><circle cx="481.8" cy="152.9" r="1.7" fill="#000"/><circle cx="482.9" cy="151.8" r="1.7" fill="#000"/><circle cx="483.9" cy="152.4" r="1.7" fill="#000"/><circle cx="485" cy="152.9" r="1.7" fill="#000"/><circle cx="486" cy="166.5" r="1.7" fill="#000"/><circle cx="487" cy="151" r="1.7" fill="#000"/><circle cx="487.6" cy="149.8" r="1.7" fill="#000"/><circle cx="488.1" cy="148.7" r="1.7" fill="#000"/><circle cx="489.3" cy="147.9" r="1.7" fill="#000"/><circle cx="492.3" cy="141.2" r="1.7" fill="#000"/><circle cx="495.4" cy="134.5" r="1.7" fill="#000"/><circle cx="495.6" cy="135.9" r="1.7" fill="#000"/><circle cx="495.8" cy="137.4" r="1.7" fill="#000"/><circle cx="496" cy="138.8" r="1.7" fill="#000"/><circle cx="497.3" cy="137.9" r="1.7" fill="#000"/><circle cx="498.7" cy="136.9" r="1.7" fill="#000"/><circle cx="500" cy="136" r="1.7" fill="#000"/><circle cx="501.3" cy="135.1" r="1.7" fill="#000"/><circle cx="502.7" cy="134.2" r="1.7" fill="#000"/><circle cx="504" cy="133.3" r="1.7" fill="#000"/><circle cx="505.3" cy="132.4" r="1.7" fill="#000"/><circle cx="506.7" cy="131.4" r="1.7" fill="#000"/><circle cx="508" cy="130.5" r="1.7" fill="#000"/><circle cx="509.6" cy="129.4" r="1.7" fill="#000"/><circle cx="511.2" cy="128.4" r="1.7" fill="#000"/><circle cx="511.4" cy="130.2" r="1.7" fill="#000"/><circle cx="511.5" cy="132.1" r="1.7" fill="#000"/><circle cx="513" cy="131.3" r="1.7" fill="#000"/><circle cx="514.5" cy="130.5" r="1.7" fill="#000"/><circle cx="515.9" cy="129.8" r="1.7" fill="#000"/><circle cx="517.3" cy="129" r="1.7" fill="#000"/><circle cx="516.4" cy="128.3" r="1.7" fill="#000"/><circle cx="519.2" cy="122.1" r="1.7" fill="#000"/><circle cx="522" cy="115.8" r="1.7" fill="#000"/><circle cx="522.5" cy="121" r="1.7" fill="#000"/><circle cx="523.6" cy="120.2" r="1.7" fill="#000"/><circle cx="524.8" cy="119.3" r="1.7" fill="#000"/><circle cx="525" cy="121.2" r="1.7" fill="#000"/><circle cx="525.2" cy="123" r="1.7" fill="#000"/><circle cx="526.5" cy="118" r="1.7" fill="#000"/><circle cx="527.8" cy="127.2" r="1.7" fill="#000"/><circle cx="528.6" cy="115.7" r="1.7" fill="#000"/><circle cx="529.8" cy="114.6" r="1.7" fill="#000"/><circle cx="531" cy="113.5" r="1.7" fill="#000"/><circle cx="532" cy="112.8" r="1.7" fill="#000"/><circle cx="533.1" cy="112" r="1.7" fill="#000"/><circle cx="534.4" cy="111.2" r="1.7" fill="#000"/><circle cx="535.7" cy="110.4" r="1.7" fill="#000"/><circle cx="537" cy="112" r="1.7" fill="#000"/><circle cx="537.4" cy="113.3" r="1.7" fill="#000"/><circle cx="537.8" cy="114.6" r="1.7" fill="#000"/><circle cx="538.5" cy="109.5" r="1.7" fill="#000"/><circle cx="539.4" cy="108.5" r="1.7" fill="#000"/><circle cx="540.2" cy="107.5" r="1.7" fill="#000"/><circle cx="542.5" cy="100.5" r="1.7" fill="#000"/><circle cx="543" cy="102.5" r="1.7" fill="#000"/><circle cx="543.5" cy="104.5" r="1.7" fill="#000"/><circle cx="544.5" cy="104" r="1.7" fill="#000"/><circle cx="545.5" cy="103.5" r="1.7" fill="#000"/><circle cx="547.4" cy="103" r="1.7" fill="#000"/><circle cx="547.8" cy="108.1" r="1.7" fill="#000"/><circle cx="548.5" cy="106.5" r="1.7" fill="#000"/><circle cx="549.8" cy="106" r="1.7" fill="#000"/><circle cx="551.2" cy="105" r="1.7" fill="#000"/><circle cx="552.6" cy="103.9" r="1.7" fill="#000"/><circle cx="553.7" cy="102.2" r="1.7" fill="#000"/><circle cx="554.7" cy="100.5" r="1.7" fill="#000"/><circle cx="555.9" cy="100.2" r="1.7" fill="#000"/><circle cx="557" cy="100" r="1.7" fill="#000"/><circle cx="560.2" cy="92" r="1.7" fill="#000"/><circle cx="561.5" cy="91" r="1.7" fill="#000"/><circle cx="562.8" cy="90" r="1.7" fill="#000"/><circle cx="564.1" cy="90.2" r="1.7" fill="#000"/><circle cx="565.5" cy="90.3" r="1.7" fill="#000"/><circle cx="567.2" cy="89.7" r="1.7" fill="#000"/><circle cx="569" cy="89" r="1.7" fill="#000"/><circle cx="570.7" cy="88.3" r="1.7" fill="#000"/><circle cx="572.4" cy="87.7" r="1.7" fill="#000"/><circle cx="575" cy="81.6" r="1.7" fill="#000"/><circle cx="575.2" cy="83.2" r="1.7" fill="#000"/><circle cx="575.3" cy="84.9" r="1.7" fill="#000"/><circle cx="575.5" cy="86.5" r="1.7" fill="#000"/><circle cx="576.5" cy="85.8" r="1.7" fill="#000"/><circle cx="577.6" cy="85.1" r="1.7" fill="#000"/><circle cx="579.3" cy="84.2" r="1.7" fill="#000"/><circle cx="581" cy="83.3" r="1.7" fill="#000"/><circle cx="582.8" cy="82.4" r="1.7" fill="#000"/><circle cx="584.6" cy="81.6" r="1.7" fill="#000"/><circle cx="585.8" cy="80.8" r="1.7" fill="#000"/><circle cx="587" cy="80" r="1.7" fill="#000"/><circle cx="588.4" cy="79" r="1.7" fill="#000"/><circle cx="589.8" cy="78.1" r="1.7" fill="#000"/><circle cx="589.8" cy="71.1" r="1.7" fill="#000"/><circle cx="590.5" cy="77" r="1.7" fill="#000"/><circle cx="591.5" cy="76.2" r="1.7" fill="#000"/><circle cx="592.5" cy="75.5" r="1.7" fill="#000"/><circle cx="594.2" cy="66.8" r="1.7" fill="#000"/><circle cx="595.9" cy="65.7" r="1.7" fill="#000"/><circle cx="597.5" cy="64.5" r="1.7" fill="#000"/><circle cx="598.7" cy="63.8" r="1.7" fill="#000"/><circle cx="600" cy="63.1" r="1.7" fill="#000"/><circle cx="601.2" cy="62.4" r="1.7" fill="#000"/><circle cx="602.9" cy="72" r="1.7" fill="#000"/><circle cx="603.6" cy="70.5" r="1.7" fill="#000"/><circle cx="604.3" cy="69.1" r="1.7" fill="#000"/><circle cx="605" cy="67.6" r="1.7" fill="#000"/><circle cx="606.5" cy="57.8" r="1.7" fill="#000"/><circle cx="608" cy="57.2" r="1.7" fill="#000"/><circle cx="609.6" cy="56.7" r="1.7" fill="#000"/><circle cx="610.2" cy="56.2" r="1.7" fill="#000"/><circle cx="611.3" cy="57.9" r="1.7" fill="#000"/><circle cx="612.3" cy="59.7" r="1.7" fill="#000"/><circle cx="613.4" cy="61.4" r="1.7" fill="#000"/><circle cx="614.4" cy="62.8" r="1.7" fill="#000"/><circle cx="615.5" cy="64.2" r="1.7" fill="#000"/><circle cx="616.5" cy="65.6" r="1.7" fill="#000"/><circle cx="617.2" cy="67" r="1.7" fill="#000"/><circle cx="617.9" cy="68.3" r="1.7" fill="#000"/><circle cx="618.6" cy="69.7" r="1.7" fill="#000"/><circle cx="619.7" cy="70.8" r="1.7" fill="#000"/><circle cx="620.7" cy="71.8" r="1.7" fill="#000"/><circle cx="622.8" cy="77.1" r="1.7" fill="#000"/><circle cx="624.9" cy="68.7" r="1.7" fill="#000"/><circle cx="626" cy="68.2" r="1.7" fill="#000"/><circle cx="627" cy="67.7" r="1.7" fill="#000"/><circle cx="629.1" cy="73.9" r="1.7" fill="#000"/><circle cx="630.5" cy="73.6" r="1.7" fill="#000"/><circle cx="631.8" cy="73.2" r="1.7" fill="#000"/><circle cx="633.2" cy="72.9" r="1.7" fill="#000"/><circle cx="634.3" cy="74.3" r="1.7" fill="#000"/><circle cx="635.3" cy="75.7" r="1.7" fill="#000"/><circle cx="636.4" cy="77.1" r="1.7" fill="#000"/><circle cx="639.5" cy="68.7" r="1.7" fill="#000"/><circle cx="640.2" cy="67.3" r="1.7" fill="#000"/><circle cx="641" cy="66" r="1.7" fill="#000"/><circle cx="642.7" cy="66.6" r="1.7" fill="#000"/><circle cx="644.2" cy="73.3" r="1.7" fill="#000"/><circle cx="646.3" cy="62.9" r="1.7" fill="#000"/><circle cx="647.8" cy="62.3" r="1.7" fill="#000"/><circle cx="649.4" cy="61.8" r="1.7" fill="#000"/><circle cx="651.5" cy="69.2" r="1.7" fill="#000"/><circle cx="653.6" cy="59.7" r="1.7" fill="#000"/><circle cx="654.7" cy="58.7" r="1.7" fill="#000"/><circle cx="655.7" cy="57.7" r="1.7" fill="#000"/><circle cx="657.8" cy="73.3" r="1.7" fill="#000"/><circle cx="659.9" cy="65" r="1.7" fill="#000"/><circle cx="662" cy="70.2" r="1.7" fill="#000"/><circle cx="663" cy="62.9" r="1.7" fill="#000"/><circle cx="665.1" cy="51.4" r="1.7" fill="#000"/><circle cx="667.2" cy="58.7" r="1.7" fill="#000"/><circle cx="669.3" cy="51.4" r="1.7" fill="#000"/><circle cx="670.3" cy="50.3" r="1.7" fill="#000"/><circle cx="671.4" cy="49.3" r="1.7" fill="#000"/><circle cx="671.7" cy="47.9" r="1.7" fill="#000"/><circle cx="672.1" cy="46.5" r="1.7" fill="#000"/><circle cx="672.4" cy="45.1" r="1.7" fill="#000"/><circle cx="674.5" cy="35.7" r="1.7" fill="#000"/><circle cx="675" cy="37.1" r="1.7" fill="#000"/><circle cx="675.5" cy="38.5" r="1.7" fill="#000"/><circle cx="676" cy="39.9" r="1.7" fill="#000"/><circle cx="676.6" cy="41.3" r="1.7" fill="#000"/><circle cx="677.1" cy="42.7" r="1.7" fill="#000"/><circle cx="677.7" cy="44.1" r="1.7" fill="#000"/><circle cx="678.7" cy="51.4" r="1.7" fill="#000"/><circle cx="679.7" cy="42" r="1.7" fill="#000"/>
<circle cx="443" cy="168.5" r="1.6" fill="#000"/><circle cx="446" cy="170" r="1.6" fill="#000"/><circle cx="449" cy="168.5" r="1.6" fill="#000"/><circle cx="452" cy="170.5" r="1.6" fill="#000"/><circle cx="455" cy="171.5" r="1.6" fill="#000"/><circle cx="460" cy="165.5" r="1.6" fill="#000"/><circle cx="463" cy="164.8" r="1.6" fill="#000"/><circle cx="466" cy="164.2" r="1.6" fill="#000"/><circle cx="469" cy="163.8" r="1.6" fill="#000"/><circle cx="472" cy="161.8" r="1.6" fill="#000"/><circle cx="475" cy="162.2" r="1.6" fill="#000"/><circle cx="478" cy="158" r="1.6" fill="#000"/><circle cx="481" cy="155" r="1.6" fill="#000"/><circle cx="397" cy="203.5" r="1.6" fill="#000"/><circle cx="401" cy="201" r="1.6" fill="#000"/><circle cx="404" cy="199" r="1.6" fill="#000"/><circle cx="413" cy="192" r="1.6" fill="#000"/><circle cx="416" cy="190" r="1.6" fill="#000"/>
<path d="M390.2 206.3L393.8 209.9M390.2 209.9L393.8 206.3M392.1 204.1L395.7 207.7M392.1 207.7L395.7 204.1M394 204L397.6 207.6M394 207.6L397.6 204M395.9 200.5L399.5 204.1M395.9 204.1L399.5 200.5M397.8 200.4L401.4 204M397.8 204L401.4 200.4M399.7 198.2L403.3 201.8M399.7 201.8L403.3 198.2M401.6 195.5L405.2 199.1M401.6 199.1L405.2 195.5M403.5 195.3L407.1 198.9M403.5 198.9L407.1 195.3M405.4 192.2L409 195.8M405.4 195.8L409 192.2M407.3 191.8L410.9 195.4M407.3 195.4L410.9 191.8M409.2 189L412.8 192.6M409.2 192.6L412.8 189M411.1 187.6L414.7 191.2M411.1 191.2L414.7 187.6M413 187.2L416.6 190.8M413 190.8L416.6 187.2M414.9 187L418.5 190.6M414.9 190.6L418.5 187M416.8 183.3L420.4 186.9M416.8 186.9L420.4 183.3M418.7 182.1L422.3 185.7M418.7 185.7L422.3 182.1M420.6 181.6L424.2 185.2M420.6 185.2L424.2 181.6M422.5 180.9L426.1 184.5M422.5 184.5L426.1 180.9M424.4 178.1L428 181.7M424.4 181.7L428 178.1M428.1 170.7L431.7 174.3M428.1 174.3L431.7 170.7M430.4 170L434 173.6M430.4 173.6L434 170M432.7 166.4L436.3 170M432.7 170L436.3 166.4M435 166.2L438.6 169.8M435 169.8L438.6 166.2M437.3 163.3L440.9 166.9M437.3 166.9L440.9 163.3M439.6 161.2L443.2 164.8M439.6 164.8L443.2 161.2M441.9 159.3L445.5 162.9M441.9 162.9L445.5 159.3M444.2 157.9L447.8 161.5M444.2 161.5L447.8 157.9M446.5 157.2L450.1 160.8M446.5 160.8L450.1 157.2M448.8 154.1L452.4 157.7M448.8 157.7L452.4 154.1M451.1 153.1L454.7 156.7M451.1 156.7L454.7 153.1M453.4 151.4L457 155M453.4 155L457 151.4M455.7 149.1L459.3 152.7M455.7 152.7L459.3 149.1M458 147.6L461.6 151.2M458 151.2L461.6 147.6M464.9 141.3L468.5 144.9M464.9 144.9L468.5 141.3M467.2 139.5L470.8 143.1M467.2 143.1L470.8 139.5M469.5 138L473.1 141.6M469.5 141.6L473.1 138M471.8 137.1L475.4 140.7M471.8 140.7L475.4 137.1M474.1 134.8L477.7 138.4M474.1 138.4L477.7 134.8M476.4 132.8L480 136.4M476.4 136.4L480 132.8M478.7 131.6L482.3 135.2M478.7 135.2L482.3 131.6M481 129.5L484.6 133.1M481 133.1L484.6 129.5M485.6 125.6L489.2 129.2M485.6 129.2L489.2 125.6M487.9 124.8L491.5 128.4M487.9 128.4L491.5 124.8M490.2 122.8L493.8 126.4M490.2 126.4L493.8 122.8M492.5 120.1L496.1 123.7M492.5 123.7L496.1 120.1M494.8 119L498.4 122.6M494.8 122.6L498.4 119M497.1 117.1L500.7 120.7M497.1 120.7L500.7 117.1M494.1 117.6L497.7 121.2M494.1 121.2L497.7 117.6M495.8 115.9L499.4 119.5M495.8 119.5L499.4 115.9M498.4 113.3L502 116.9M498.4 116.9L502 113.3M502.8 108L506.4 111.6M502.8 111.6L506.4 108M505.4 106.3L509 109.9M505.4 109.9L509 106.3M508 104.2L511.6 107.8M508 107.8L511.6 104.2M509.8 103.2L513.4 106.8M509.8 106.8L513.4 103.2M521.1 93.2L524.7 96.8M521.1 96.8L524.7 93.2M523.7 91.5L527.3 95.1M523.7 95.1L527.3 91.5M530.7 85.4L534.3 89M530.7 89L534.3 85.4M533.3 83.7L536.9 87.3M533.3 87.3L536.9 83.7M535.9 82.3L539.5 85.9M535.9 85.9L539.5 82.3M539.4 78.4L543 82M539.4 82L543 78.4M553.9 66.3L557.5 69.9M553.9 69.9L557.5 66.3M557.4 68.4L561 72M557.4 72L561 68.4M560.2 61.1L563.8 64.7M560.2 64.7L563.8 61.1M564.4 56.9L568 60.5M564.4 60.5L568 56.9M571.7 50.6L575.3 54.2M571.7 54.2L575.3 50.6M573.8 49.2L577.4 52.8M573.8 52.8L577.4 49.2M575.4 55.9L579 59.5M575.4 59.5L579 55.9M579 45L582.6 48.6M579 48.6L582.6 45M586.3 44.4L589.9 48M586.3 48L589.9 44.4M591.5 34.5L595.1 38.1M591.5 38.1L595.1 34.5M596.8 29.7L600.4 33.3M596.8 33.3L600.4 29.7M599.2 28.5L602.8 32.1M599.2 32.1L602.8 28.5M600.7 26.4L604.3 30M600.7 30L604.3 26.4M605.5 22.9L609.1 26.5M605.5 26.5L609.1 22.9M611.8 17L615.4 20.6M611.8 20.6L615.4 17M614.9 13.9L618.5 17.5M614.9 17.5L618.5 13.9M618.1 10.8L621.7 14.4M618.1 14.4L621.7 10.8M633.8 3.4L637.4 7M633.8 7L637.4 3.4M635.9 3.4L639.5 7M635.9 7L639.5 3.4M393.9 220.1L397.5 223.7M393.9 223.7L397.5 220.1M408.2 203L411.8 206.6M408.2 206.6L411.8 203M409.8 201.8L413.4 205.4M409.8 205.4L413.4 201.8M428.1 172.6L431.7 176.2M428.1 176.2L431.7 172.6M420.7 175.4L424.3 179M420.7 179L424.3 175.4M434.3 180.6L437.9 184.2M434.3 184.2L437.9 180.6M438.7 208.8L442.3 212.4M438.7 212.4L442.3 208.8M439.9 208.7L443.5 212.3M439.9 212.3L443.5 208.7M443.7 197.4L447.3 201M443.7 201L447.3 197.4M444.2 197.1L447.8 200.7M444.2 200.7L447.8 197.1M458.1 152.1L461.7 155.7M458.1 155.7L461.7 152.1M480 140.6L483.6 144.2M480 144.2L483.6 140.6M502.1 172.3L505.7 175.9M502.1 175.9L505.7 172.3M516 172.3L519.6 175.9M516 175.9L519.6 172.3M525.6 108.5L529.2 112.1M525.6 112.1L529.2 108.5M519.4 114.8L523 118.4M519.4 118.4L523 114.8M546.5 125.3L550.1 128.9M546.5 128.9L550.1 125.3M542.5 146.5L546.1 150.1M542.5 150.1L546.1 146.5M544.8 156.4L548.4 160M544.8 160L548.4 156.4M550.6 110.9L554.2 114.5M550.6 114.5L554.2 110.9M554.3 98.7L557.9 102.3M554.3 102.3L557.9 98.7M572.3 83.2L575.9 86.8M572.3 86.8L575.9 83.2M584.2 146.1L587.8 149.7M584.2 149.7L587.8 146.1M621.6 48.4L625.2 52M621.6 52L625.2 48.4M606.1 95.9L609.7 99.5M606.1 99.5L609.7 95.9M611.1 93.2L614.7 96.8M611.1 96.8L614.7 93.2M655.6 93.9L659.2 97.5M655.6 97.5L659.2 93.9M624 119.9L627.6 123.5M624 123.5L627.6 119.9M525.4 108L529 111.6M525.4 111.6L529 108M520.2 114.2L523.8 117.8M520.2 117.8L523.8 114.2" stroke="#dc2c3c" stroke-width="0.95" fill="none"/>
<polyline points="391,209.8 400,202 410,193.3 420,185.5 425.5,180.5 434.4,173.5 445.9,166 453.7,161 460.8,158.5 471.7,152.5 481.8,148 490.2,143.5 500.9,140 508,136.5 517.9,130 521,128.2 530.4,119.3 537.8,115.7 549.3,112 555,108.5 562.6,99.6 578,89.5 585.6,87 598.1,79.5 603.8,75.8 609.6,73 625,68.5 640,60.9 650,56.1 665,47.4 676.6,40.5 680,38.5" fill="none" stroke="#b818c8" stroke-width="1.5" stroke-dasharray="1.2 1.1"/>
<rect x="230.6" y="6" width="96.8" height="46.5" fill="#fff" stroke="#555" stroke-width="0.9"/>
<line x1="235.8" y1="14.8" x2="262" y2="14.8" stroke="#000" stroke-width="0.7"/>
<circle cx="249.4" cy="14.8" r="1.5" fill="#000"/>
<line x1="235.8" y1="29.1" x2="262" y2="29.1" stroke="#f06060" stroke-width="0.7"/>
<path d="M248 27.7L250.8 30.5M248 30.5L250.8 27.7" stroke="#e02020" stroke-width="0.8" fill="none"/>
<line x1="235.7" y1="43.2" x2="262" y2="43.2" stroke="#9020a0" stroke-width="1.4" stroke-dasharray="1.2 1.4"/>
<text x="265.4" y="18.6" class="lg">MMP</text>
<text x="265.4" y="33.3" class="lg">BPDN</text>
<text x="265.4" y="48.2" class="lg">GPS Record</text>
<rect x="578" y="174.6" width="96.6" height="46.7" fill="#fff" stroke="#555" stroke-width="0.9"/>
<line x1="583" y1="183.6" x2="609.3" y2="183.6" stroke="#000" stroke-width="0.7"/>
<circle cx="596.6" cy="183.6" r="1.5" fill="#000"/>
<path d="M595.2 196.8L598 199.6M595.2 199.6L598 196.8" stroke="#e02020" stroke-width="0.8" fill="none"/>
<line x1="583" y1="211.8" x2="609.3" y2="211.8" stroke="#b010c0" stroke-width="1.4" stroke-dasharray="1.2 1.4"/>
<circle cx="596.6" cy="211.8" r="1.5" fill="#c020c8"/>
<text x="612.7" y="187.9" class="lg2">MMP</text>
<text x="612.7" y="202.8" class="lg2">BPDN</text>
<text x="612.7" y="217.6" class="lg2">GPS Record</text>
<text x="72.2" y="283.6" class="cap">(a) altitude estimation of landing plane</text>
<text x="366.8" y="283.5" class="cap">(b) altitude estimation of taking off plane</text>
</svg>
</body></html>
